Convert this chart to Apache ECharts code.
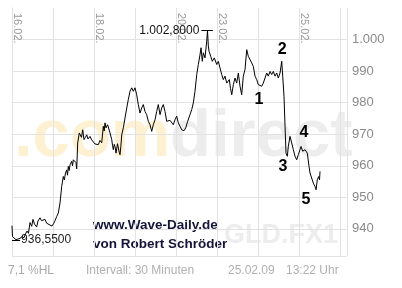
<!DOCTYPE html>
<html>
<head>
<meta charset="utf-8">
<script src="https://cdn.jsdelivr.net/npm/echarts@6/dist/echarts.min.js"></script>
<style>
html,body{margin:0;padding:0;background:#fff;}
#c{width:402px;height:288px;}
</style>
</head>
<body>
<div id="c"></div>
<script>
// trading-day labels (one gridline per trading day)
const tradingDays = ['16.02.','17.02.','18.02.','19.02.','20.02.','23.02.','24.02.','25.02.'];
const labeledDays = ['16.02.','18.02.','20.02.','23.02.','25.02.'];

// time in trading days since 16.02. 00:00
const times = [0,0.012,0.049,0.098,0.146,0.195,0.244,0.293,0.329,0.366,0.402,0.439,0.480,0.512,0.549,0.602,0.634,0.683,0.720,0.763,0.805,0.846,0.890,0.927,0.976,1.012,1.049,1.090,1.129,1.171,1.212,1.251,1.276,1.305,1.334,1.354,1.373,1.395,1.415,1.456,1.476,1.495,1.537,1.561,1.578,1.602,1.641,1.676,1.695,1.724,1.756,1.788,1.822,1.854,1.902,1.944,1.983,2.024,2.061,2.105,2.146,2.188,2.227,2.249,2.268,2.293,2.310,2.329,2.349,2.390,2.432,2.451,2.471,2.493,2.512,2.537,2.554,2.573,2.593,2.615,2.634,2.654,2.676,2.715,2.756,2.798,2.837,2.878,2.920,2.959,3.000,3.041,3.080,3.122,3.163,3.202,3.244,3.285,3.324,3.366,3.407,3.446,3.488,3.529,3.568,3.610,3.651,3.690,3.732,3.773,3.812,3.854,3.895,3.934,3.976,4.017,4.056,4.098,4.139,4.195,4.237,4.285,4.341,4.383,4.422,4.463,4.505,4.544,4.585,4.610,4.641,4.666,4.707,4.749,4.768,4.788,4.805,4.846,4.885,4.934,4.993,5.032,5.073,5.115,5.154,5.195,5.237,5.300,5.329,5.359,5.398,5.439,5.480,5.520,5.561,5.602,5.641,5.683,5.724,5.763,5.805,5.846,5.885,5.927,5.968,6.007,6.049,6.090,6.129,6.171,6.212,6.251,6.293,6.334,6.373,6.415,6.456,6.495,6.537,6.578,6.602,6.634,6.659,6.683,6.715,6.739,6.780,6.822,6.861,6.902,6.944,6.983,7.024,7.049,7.090,7.146,7.202,7.244,7.268,7.310,7.349,7.390,7.415,7.446,7.480,7.500,7.512];

// gold price
const prices = [941.0,937.6,937.2,936.55,936.9,937.0,937.5,937.2,938.4,939.3,938.6,942.0,940.8,943.0,941.5,940.6,942.5,943.5,942.6,942.2,943.0,941.8,941.9,941.2,940.9,941.6,942.6,943.9,945.0,948.2,953.4,956.6,955.5,957.7,958.7,957.0,959.8,958.5,960.3,961.4,960.0,961.9,962.4,961.0,959.0,967.2,970.4,970.9,969.0,971.4,968.3,969.0,969.8,968.5,969.3,968.2,967.7,966.9,967.2,966.7,968.0,967.3,972.5,971.0,973.6,972.0,971.4,973.0,972.3,970.4,968.3,966.5,965.1,966.8,966.1,964.0,964.6,967.0,966.7,964.3,963.5,966.0,969.8,972.0,975.1,978.3,981.0,983.6,984.7,983.6,984.7,982.5,979.4,976.7,978.3,979.4,977.2,976.2,974.1,973.0,970.9,973.0,974.6,977.2,979.4,976.2,978.3,979.4,977.2,974.1,973.6,974.4,974.1,973.0,974.6,975.7,973.6,972.5,971.4,971.1,972.0,974.1,976.2,977.8,979.9,983.6,988.9,992.1,995.2,997.4,993.1,995.8,994.2,999.5,1002.8,998.0,996.3,994.7,993.1,994.2,992.1,993.1,991.0,988.9,987.3,988.4,986.2,987.3,984.5,982.5,985.7,987.8,986.2,989.4,985.2,982.5,988.4,990.5,996.8,994.7,995.2,992.6,991.5,988.4,987.3,985.7,986.2,985.2,986.2,986.8,989.4,988.4,989.9,988.9,989.9,988.4,989.4,987.8,989.4,993.1,988.4,982.0,972.5,964.0,963.0,966.1,969.3,967.2,965.1,963.0,961.9,963.5,965.1,966.1,964.6,965.1,964.0,959.8,957.7,957.1,954.5,953.4,952.4,955.6,956.6,955.5,958.2];

// high / low annotations
const highValue = 1002.8, highTime = 4.768, highText = '1.002,8000';
const lowValue = 936.55, lowTime = 0.098, lowText = '936,5500';

// Elliott wave counts
const waveLabels = ['1','2','3','4','5'];
const waveTimes  = [6.02, 6.59, 6.61, 7.12, 7.17];
const wavePrices = [981.0, 996.8, 959.7, 970.5, 949.2];

const chart = echarts.init(document.getElementById('c'), null, {renderer:'canvas'});
const FONT = 'Liberation Sans, Arial, sans-serif';

const lineData = times.map((t,i)=>[t,prices[i]]);

chart.setOption({
  animation:false,
  backgroundColor:'#ffffff',
  grid:{left:12,right:55,top:8,bottom:32,containLabel:false,outerBoundsMode:'none'},
  xAxis:{
    type:'value', position:'top', min:0, max:8.17, interval:1,
    axisLine:{show:false}, axisTick:{show:false},
    splitLine:{show:true,lineStyle:{color:'#e2e2e2',width:1}},
    axisLabel:{
      inside:true, rotate:90, margin:5, align:'left', verticalAlign:'bottom',
      color:'#9a9a9a', fontSize:11, fontFamily:FONT,
      showMaxLabel:false,
      formatter:function(v){
        const i=Math.round(v);
        if (Math.abs(v-i)>1e-6) return '';
        const d=tradingDays[i];
        return labeledDays.indexOf(d)>=0 ? d : '';
      }
    }
  },
  yAxis:{
    type:'value', position:'right', min:931.4, max:1010, splitNumber:8,
    axisLine:{show:true,lineStyle:{color:'#e2e2e2'}},
    axisTick:{show:false},
    splitLine:{show:true,showMaxLine:false,lineStyle:{color:'#e2e2e2',width:1}},
    axisLabel:{
      color:'#8a8a8a', fontSize:13, fontFamily:FONT, margin:5,
      showMinLabel:false, showMaxLabel:false,
      formatter:function(v){ return v.toLocaleString('de-DE'); }
    }
  },
  graphic:[
    {type:'text', z:-10, left:14, top:104, style:{text:'.com', fill:'#fdf1d2', font:'bold 67px '+FONT}},
    {type:'text', z:-10, left:170, top:104, style:{text:'direct', fill:'#ededed', font:'bold 67px '+FONT}},
    {type:'text', z:-10, left:224, top:222, style:{text:'GLD.FX1', fill:'#ededed', font:'bold 27px '+FONT}},
    {type:'text', left:93, top:218, style:{text:'www.Wave-Daily.de', fill:'#14143a', font:'bold 13.5px '+FONT}},
    {type:'text', left:93, top:237, style:{text:'von Robert Schröder', fill:'#14143a', font:'bold 13.5px '+FONT}},
    {type:'text', left:8, top:265, style:{text:'7,1 %HL', fill:'#a8a8a8', font:'12px '+FONT}},
    {type:'text', left:86, top:265, style:{text:'Intervall: 30 Minuten', fill:'#b0b0b0', font:'12px '+FONT}},
    {type:'text', left:228, top:265, style:{text:'25.02.09', fill:'#b0b0b0', font:'12px '+FONT}},
    {type:'text', left:286, top:265, style:{text:'13:22 Uhr', fill:'#b0b0b0', font:'12px '+FONT}}
  ],
  series:[{
    type:'line', data:lineData, showSymbol:false, symbol:'none',
    lineStyle:{color:'#000',width:1}, z:5,
    markLine:{
      silent:true, symbol:'none', animation:false,
      lineStyle:{color:'#000',width:1,type:'solid'},
      data:[
        [{coord:[highTime-0.15,highValue],label:{show:true,position:'start',formatter:highText,color:'#111',fontSize:12,fontFamily:FONT,distance:2}},
         {coord:[highTime+0.13,highValue]}],
        [{coord:[0,lowValue]},
         {coord:[lowTime+0.1,lowValue],label:{show:true,position:'end',formatter:lowText,color:'#222',fontSize:12,fontFamily:FONT,distance:1}}]
      ]
    },
    markPoint:{
      silent:true, animation:false, symbol:'circle', symbolSize:1,
      itemStyle:{color:'rgba(0,0,0,0)'},
      label:{show:true,position:'inside',color:'#000',fontSize:16,fontWeight:'bold',fontFamily:FONT},
      data:waveLabels.map((l,i)=>({coord:[waveTimes[i],wavePrices[i]],label:{formatter:l}}))
    }
  }]
});
</script>
</body>
</html>
